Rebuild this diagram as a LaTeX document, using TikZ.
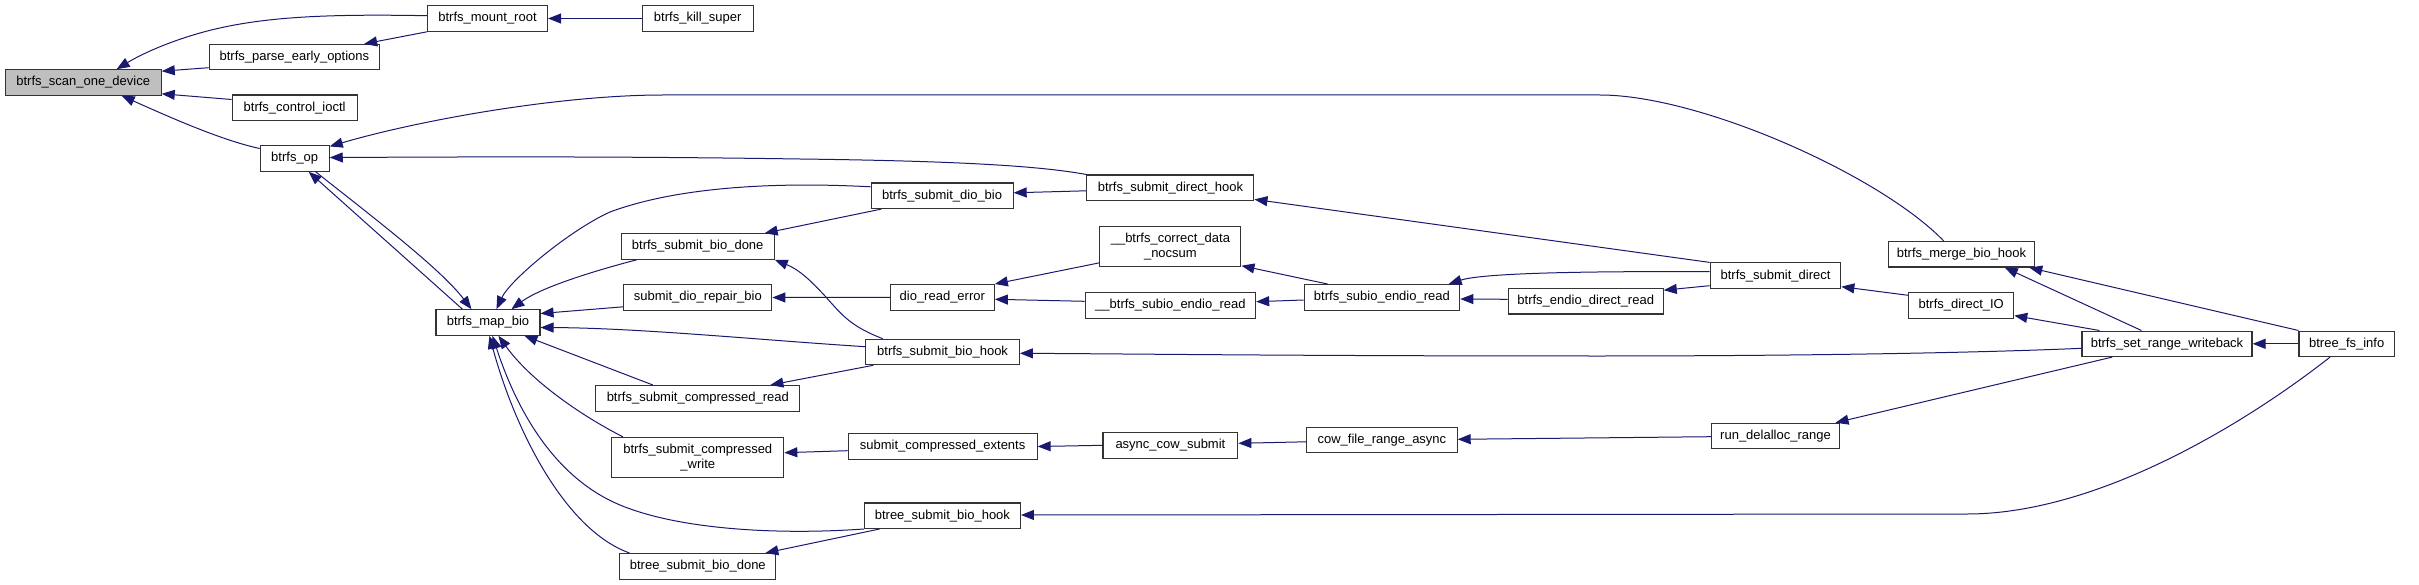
\documentclass[tikz,border=0pt]{standalone}
\usepackage{fontspec}
\setmainfont{Liberation Sans}
\usetikzlibrary{arrows.meta,calc}
\definecolor{edgeblue}{HTML}{191970}
\definecolor{boxline}{HTML}{333333}
\definecolor{rootfill}{HTML}{BFBFBF}
\begin{document}
\begin{tikzpicture}[x=1pt,y=-1pt,
  fn/.style={draw=boxline, line width=1.1pt, fill=white, inner sep=0pt,
    minimum height=25.5pt, font=\fontsize{13}{15}\selectfont, align=center},
  call/.style={draw=edgeblue, line width=1pt, -{Triangle[length=13pt,width=10pt]}}]
\fill[white] (0,0) rectangle (2419,585);
\useasboundingbox (0,0) rectangle (2419,585);
% nodes
\node[fn, fill=rootfill, minimum width=156pt] (scan) at (83.2,82.5) {btrfs\_scan\_one\_device};
\node[fn, minimum width=120pt] (mount) at (487.5,18.5) {btrfs\_mount\_root};
\node[fn, minimum width=111pt] (kill) at (697.7,18.5) {btrfs\_kill\_super};
\node[fn, minimum width=170.4pt] (parse) at (294.4,57.2) {btrfs\_parse\_early\_options};
\node[fn, minimum width=125pt] (ioctl) at (294.6,107.8) {btrfs\_control\_ioctl};
\node[fn, minimum width=69pt] (op) at (294.7,158.5) {btrfs\_op};
\node[fn, minimum width=104pt] (map) at (488,322.5) {btrfs\_map\_bio};
\node[fn, minimum width=153pt] (biodone) at (697.7,246.5) {btrfs\_submit\_bio\_done};
\node[fn, minimum width=148pt] (repair) at (697.8,297.5) {submit\_dio\_repair\_bio};
\node[fn, minimum width=204pt] (cread) at (697.8,398.3) {btrfs\_submit\_compressed\_read};
\node[fn, minimum width=172pt, minimum height=39.7pt] (cwrite) at (697.8,457.2) {btrfs\_submit\_compressed\\\_write};
\node[fn, minimum width=156pt] (bdone) at (697.8,566.3) {btree\_submit\_bio\_done};
\node[fn, minimum width=142pt] (diobio) at (942.1,195.8) {btrfs\_submit\_dio\_bio};
\node[fn, minimum width=167pt] (dhook) at (1170.4,187.8) {btrfs\_submit\_direct\_hook};
\node[fn, minimum width=141pt, minimum height=40pt] (cdata) at (1170.4,246.7) {\_\_btrfs\_correct\_data\\\_nocsum};
\node[fn, minimum width=104pt] (dre) at (942.3,297.3) {dio\_read\_error};
\node[fn, minimum width=170.4pt] (usubio) at (1170.4,305.3) {\_\_btrfs\_subio\_endio\_read};
\node[fn, minimum width=155.7pt] (subio) at (1381.9,297.3) {btrfs\_subio\_endio\_read};
\node[fn, minimum width=155pt] (edr) at (1585.7,301.2) {btrfs\_endio\_direct\_read};
\node[fn, minimum width=153.6pt] (biohook) at (942.6,352) {btrfs\_submit\_bio\_hook};
\node[fn, minimum width=189pt] (sce) at (942.6,446.5) {submit\_compressed\_extents};
\node[fn, minimum width=134.8pt] (async) at (1170.4,445.3) {async\_cow\_submit};
\node[fn, minimum width=150.5pt] (cow) at (1381.9,439.8) {cow\_file\_range\_async};
\node[fn, minimum width=156pt] (bhook) at (942.4,515.7) {btree\_submit\_bio\_hook};
\node[fn, minimum width=146.4pt] (merge) at (1961.5,254.3) {btrfs\_merge\_bio\_hook};
\node[fn, minimum width=130.6pt] (sdirect) at (1775.5,275.7) {btrfs\_submit\_direct};
\node[fn, minimum width=105pt] (dio) at (1961.2,305.3) {btrfs\_direct\_IO};
\node[fn, minimum width=170pt] (srw) at (2167,343.8) {btrfs\_set\_range\_writeback};
\node[fn, minimum width=95.4pt] (bfs) at (2346.7,343.8) {btree\_fs\_info};
\node[fn, minimum width=127.6pt] (rdr) at (1775.5,436) {run\_delalloc\_range};
% edges
\draw[call] (kill.west) -- (mount.east);
\draw[call] ($(mount.west)+(0,-2.8)$) .. controls (330,14) and (260,16) .. (200,33) .. controls (165,43) and (140,55) .. ($(scan.north west)+(112,0)$);
\draw[call] ($(parse.west)+(0,10.5)$) -- ($(scan.north east)+(0,2)$);
\draw[call] ($(ioctl.north west)+(0,5)$) -- ($(scan.south east)+(0,-2)$);
\draw[call] ($(op.north west)+(0,3.3)$) .. controls (220,140) and (165,115) .. ($(scan.south west)+(117,0)$);
\draw[call] (mount.south west) -- ($(parse.north east)+(-16,0)$);
\draw[call] ($(merge.north west)+(56,0)$) .. controls (1880,175) and (1700,95) .. (1600,95) -- (663,95) .. controls (560,95) and (420,120) .. ($(op.north east)+(0,1.2)$);
\draw[call] (dhook.north west) .. controls (1040,166) and (960,161) .. (800,159) .. controls (600,156) and (450,157) .. ($(op.east)+(0,-1)$);
\draw[call] ($(op.south west)+(56,0)$) .. controls (370,215) and (440,268) .. ($(map.north west)+(36,0)$);
\draw[call] ($(map.north west)+(27,0)$) -- ($(op.south west)+(49,0)$);
\draw[call] ($(diobio.north west)+(0,4.3)$) .. controls (780,182) and (680,186) .. (610,212) .. controls (570,230) and (510,280) .. ($(map.north west)+(61,0)$);
\draw[call] ($(biodone.south west)+(16,0)$) .. controls (590,272) and (540,288) .. ($(map.north west)+(76,0)$);
\draw[call] ($(repair.south west)+(0,-4)$) -- ($(map.north east)+(0,4.3)$);
\draw[call] ($(biohook.north west)+(0,8)$) .. controls (760,340) and (640,328) .. ($(map.south east)+(0,-8.3)$);
\draw[call] ($(cread.north west)+(57.6,0)$) -- ($(map.south west)+(89,0)$);
\draw[call] ($(cwrite.north west)+(11.6,0)$) .. controls (580,415) and (530,380) .. ($(map.south west)+(63,0)$);
\draw[call] (bhook.south west) .. controls (780,535) and (680,530) .. (620,505) .. controls (560,480) and (520,420) .. ($(map.south west)+(57,0)$);
\draw[call] ($(bdone.north west)+(10.3,0)$) .. controls (565,530) and (515,430) .. ($(map.south west)+(54,0)$);
\draw[call] ($(dhook.west)+(0,3)$) -- ($(diobio.east)+(0,-3)$);
\draw[call] ($(diobio.south west)+(10.7,0)$) -- ($(biodone.north west)+(144,0)$);
\draw[call] ($(biohook.north west)+(17.5,0)$) .. controls (850,326) and (842,315) .. (825,296) .. controls (812,282) and (800,270) .. (biodone.south east);
\draw[call] (dre.west) -- (repair.east);
\draw[call] ($(cdata.south west)+(0,-4.4)$) -- (dre.north east);
\draw[call] ($(usubio.north west)+(0,9.3)$) -- ($(dre.east)+(0,2)$);
\draw[call] ($(subio.north west)+(24,0)$) -- ($(cdata.south east)+(0,-1.5)$);
\draw[call] ($(subio.west)+(0,2.7)$) -- ($(usubio.east)+(0,-3.6)$);
\draw[call] ($(edr.west)+(0,-1.9)$) -- ($(subio.east)+(0,1.7)$);
\draw[call] ($(sdirect.west)+(0,-4)$) .. controls (1560,271) and (1480,274) .. ($(subio.north east)+(-11.7,0)$);
\draw[call] ($(sdirect.south west)+(0,-3.3)$) -- ($(edr.east)+(0,-11)$);
\draw[call] (sdirect.north west) -- ($(dhook.south east)+(0,-1.7)$);
\draw[call] ($(dio.north west)+(0,3.3)$) -- ($(sdirect.south east)+(0,-2.3)$);
\draw[call] ($(srw.north west)+(18,0)$) -- ($(dio.south east)+(0,-3)$);
\draw[call] ($(srw.north west)+(60,0)$) -- ($(merge.south west)+(117,0)$);
\draw[call] (bfs.north west) -- ($(merge.south east)+(-6,0)$);
\draw[call] (bfs.west) -- (srw.east);
\draw[call] ($(srw.west)+(0,4.5)$) .. controls (1950,354) and (1750,356) .. (1600,356) .. controls (1300,356) and (1150,354) .. ($(biohook.east)+(0,1.3)$);
\draw[call] ($(srw.south west)+(30.7,0)$) -- ($(rdr.north east)+(-4.3,0)$);
\draw[call] ($(rdr.west)+(0,0.7)$) -- ($(cow.east)+(0,-0.5)$);
\draw[call] ($(cow.west)+(0,2)$) -- ($(async.east)+(0,-2)$);
\draw[call] (async.west) -- (sce.east);
\draw[call] ($(sce.west)+(0,4.2)$) -- ($(cwrite.east)+(0,-4.5)$);
\draw[call] ($(biohook.south west)+(8,0)$) -- ($(cread.north east)+(-30,0)$);
\draw[call] ($(bfs.south west)+(31.6,0)$) .. controls (2250,420) and (2100,514) .. (1967,514) -- ($(bhook.east)+(0,-0.7)$);
\draw[call] ($(bhook.south west)+(15.7,0)$) -- ($(bdone.north east)+(-11,0)$);
\end{tikzpicture}
\end{document}
